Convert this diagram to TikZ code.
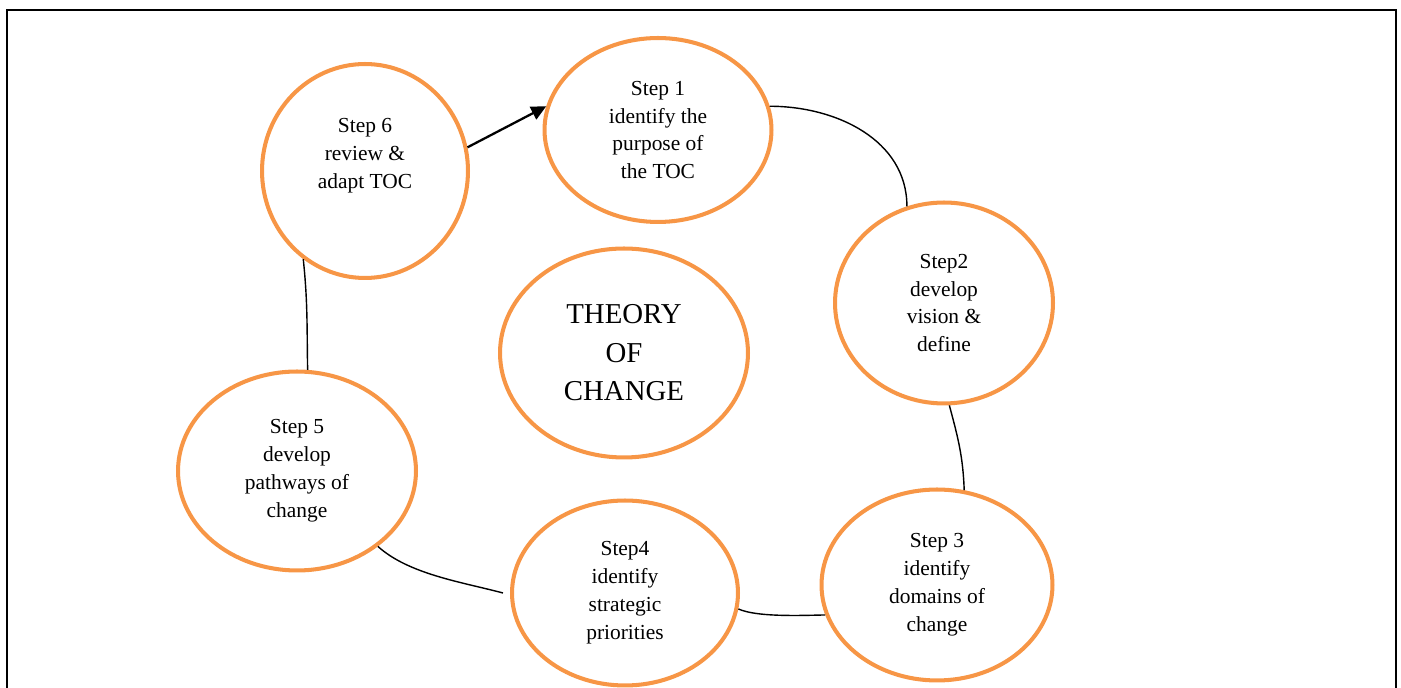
\documentclass[tikz,border=0pt]{standalone}
\usepackage{fontspec}
\setmainfont{Liberation Serif}
\usepackage{tikz}
\usetikzlibrary{arrows.meta,shapes.geometric,positioning}

\definecolor{tocorange}{HTML}{F79646}

\begin{document}
\begin{tikzpicture}[x=0.02cm,y=0.02cm]
  \tikzstyle{stage} = [ellipse,draw=tocorange,line width=2.3pt,inner sep=0pt,
                       align=center,font=\fontsize{12.2}{15.9}\selectfont]
  \tikzstyle{link}  = [black,line width=0.8pt]

  \useasboundingbox (0,0) rectangle (1401,-688);
  \draw[line width=1.1pt] (7,-700) rectangle (1396,-10);

  \node[stage,minimum width=4.54cm,minimum height=3.68cm] (s1) at (658,-130)
    {Step 1\\identify the\\purpose of\\the TOC};
  \node[stage,minimum width=4.36cm,minimum height=4.02cm] (s2) at (944,-303)
    {Step2\\develop\\vision \&\\define};
  \node[stage,minimum width=4.62cm,minimum height=3.82cm] (s3) at (937,-585)
    {Step 3\\identify\\domains of\\change};
  \node[stage,minimum width=4.52cm,minimum height=3.70cm] (s4) at (625,-593)
    {Step4\\identify\\strategic\\priorities};
  \node[stage,minimum width=4.76cm,minimum height=3.98cm] (s5) at (297,-471)
    {Step 5\\develop\\pathways of\\change};
  \node[stage,minimum width=4.12cm,minimum height=4.28cm,
        label={[yshift=0.3cm,align=center,font=\fontsize{12.2}{15.9}\selectfont]center:Step 6\\review \&\\adapt TOC}]
    (s6) at (365,-171) {};
  \node[stage,minimum width=4.96cm,minimum height=4.18cm,
        font=\fontsize{16.4}{21.9}\selectfont] (toc) at (624,-353)
    {THEORY\\OF\\CHANGE};

  % cycle of steps
  \draw[link] (s1.12) to[out=0,in=90] (s2.111);
  \draw[link] (s2.273) to[out=-75,in=92] (s3.74);
  \draw[link] (s3.195) to[out=181,in=-25,looseness=0.6] (s4.-8);
  \draw[link] ([xshift=-4]s4.180) to[out=165,in=-42,looseness=0.8] (s5.-43);
  \draw[link] (s5.84) to[out=91,in=-84] (s6.235);
  \draw[link,line width=1.3pt,-{Triangle[length=0.3cm,width=0.28cm]}] (s6.13) -- (s1.168);

\end{tikzpicture}
\end{document}
